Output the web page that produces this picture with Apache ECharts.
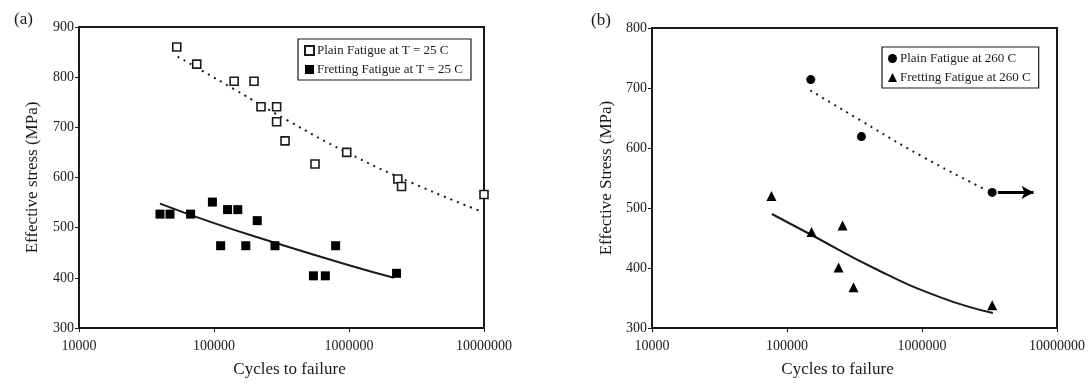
<!DOCTYPE html>
<html>
<head>
<meta charset="utf-8">
<script src="https://cdn.jsdelivr.net/npm/echarts@6/dist/echarts.min.js"></script>
<style>
  html, body { margin: 0; padding: 0; background: #fff; }
  #chart { width: 1091px; height: 383px; }
</style>
</head>
<body>
<div id="chart"></div>
<script>
// ---- (a) room temperature ----
const plainA_cycles = [53000, 74500, 141000, 198000, 223000, 291000, 291000, 336000, 560000, 962000, 2300000, 2450000, 10000000];
const plainA_stress = [860, 826, 792, 792, 741, 741, 711, 673, 627, 650, 597, 582, 566];
const frettA_cycles = [39800, 47200, 67100, 97300, 112000, 126000, 150000, 172000, 209000, 283000, 545000, 668000, 796000, 2250000];
const frettA_stress = [527, 527, 527, 551, 464, 536, 536, 464, 514, 464, 404, 404, 464, 409];
// trend curves (points along each fitted curve)
const plainA_trendCycles = [53800, 141000, 350000, 962000, 3000000, 9600000];
const plainA_trendStress = [841, 776, 714, 650, 588, 532];
const frettA_trendCycles = [39800, 100000, 260000, 1000000, 2150000];
const frettA_trendStress = [548, 509, 473, 425, 400];

// ---- (b) 260 C ----
const plainB_cycles = [150000, 356000, 3310000];
const plainB_stress = [714, 619, 526];
const frettB_cycles = [76700, 152000, 241000, 258000, 311000, 3310000];
const frettB_stress = [520, 460, 401, 471, 368, 338];
const plainB_trendCycles = [149000, 356000, 1000000, 3050000];
const plainB_trendStress = [696, 645, 586, 529];
const frettB_trendCycles = [77300, 152000, 439000, 1370000, 3350000];
const frettB_trendStress = [490, 455, 400, 351, 325];
// run-out arrow on the last plain specimen
const runoutFrom = [3650000, 526];
const runoutTo = [6700000, 526];

// axis ticks
const xTicks = [10000, 100000, 1000000, 10000000];
const yTicksA = [300, 400, 500, 600, 700, 800, 900];
const yTicksB = [300, 400, 500, 600, 700, 800];

const pairs = (xs, ys) => xs.map((x, i) => [x, ys[i]]);

const FONT = '"Liberation Serif", "DejaVu Serif", serif';
const INK = '#1a1a1a';

function xAxisFor(grid, namePad) {
  return {
    type: 'log', logBase: 10, gridIndex: grid,
    min: xTicks[0], max: xTicks[xTicks.length - 1],
    name: 'Cycles to failure', nameLocation: 'middle', nameGap: 33,
    nameTextStyle: { fontFamily: FONT, fontSize: 17, color: INK, padding: namePad },
    axisLine: { lineStyle: { color: INK, width: 2 } },
    axisTick: { show: true, inside: false, length: 4, lineStyle: { color: INK, width: 1 } },
    minorTick: { show: false },
    axisLabel: { fontFamily: FONT, fontSize: 14, color: INK, margin: 11,
      formatter: v => String(Math.round(v)) },
    splitLine: { show: false }
  };
}

function yAxisFor(grid, ticks, label, gap) {
  return {
    type: 'value', gridIndex: grid,
    min: ticks[0], max: ticks[ticks.length - 1], interval: 100,
    name: label, nameLocation: 'middle', nameRotate: 90, nameGap: gap,
    nameTextStyle: { fontFamily: FONT, fontSize: 17, color: INK },
    axisLine: { show: true, lineStyle: { color: INK, width: 2 } },
    axisTick: { show: true, inside: false, length: 4, lineStyle: { color: INK, width: 1 } },
    axisLabel: { fontFamily: FONT, fontSize: 14, color: INK, margin: 5 },
    splitLine: { show: false }
  };
}

function trend(name, xi, xs, ys, dotted) {
  return {
    name: name, type: 'line', xAxisIndex: xi, yAxisIndex: xi,
    data: pairs(xs, ys), smooth: true, showSymbol: false, symbol: 'none',
    silent: true, z: 1,
    lineStyle: dotted ? { color: INK, width: 2, type: [2, 5] } : { color: INK, width: 2 }
  };
}

const legendBase = {
  orient: 'vertical', borderColor: INK, borderWidth: 1.2,
  padding: [5, 8, 4, 6], itemGap: 6, itemWidth: 9, itemHeight: 9,
  textStyle: { fontFamily: FONT, fontSize: 13, color: INK, padding: [0, 0, 0, -2] },
  selectedMode: false
};

const option = {
  backgroundColor: '#fff',
  animation: false,
  title: [
    { text: '(a)', left: 9, top: 6, textStyle: { fontFamily: FONT, fontSize: 17, fontWeight: 'normal', color: INK } },
    { text: '(b)', left: 586, top: 7, textStyle: { fontFamily: FONT, fontSize: 17, fontWeight: 'normal', color: INK } }
  ],
  grid: [
    { left: 79, top: 27, width: 405, height: 303, show: true, borderColor: INK, borderWidth: 2, backgroundColor: 'transparent' },
    { left: 652, top: 28, width: 405, height: 302, show: true, borderColor: INK, borderWidth: 2, backgroundColor: 'transparent' }
  ],
  xAxis: [xAxisFor(0, [0, 0, 0, 16]), xAxisFor(1, [0, 34, 0, 0])],
  yAxis: [
    yAxisFor(0, yTicksA, 'Effective stress (MPa)', 38),
    yAxisFor(1, yTicksB, 'Effective Stress (MPa)', 37)
  ],
  legend: [
    Object.assign({}, legendBase, { left: 298, top: 39,
      data: ['Plain Fatigue at T = 25 C', 'Fretting Fatigue at T = 25 C'] }),
    Object.assign({}, legendBase, { left: 882, top: 47,
      data: ['Plain Fatigue at 260 C', 'Fretting Fatigue at 260 C'] })
  ],
  series: [
    trend('plainA-trend', 0, plainA_trendCycles, plainA_trendStress, true),
    trend('frettA-trend', 0, frettA_trendCycles, frettA_trendStress, false),
    trend('plainB-trend', 1, plainB_trendCycles, plainB_trendStress, true),
    trend('frettB-trend', 1, frettB_trendCycles, frettB_trendStress, false),
    {
      name: 'Plain Fatigue at T = 25 C', type: 'scatter', xAxisIndex: 0, yAxisIndex: 0,
      data: pairs(plainA_cycles, plainA_stress), symbol: 'rect', symbolSize: 8, z: 3,
      itemStyle: { color: '#fff', borderColor: INK, borderWidth: 1.6, opacity: 1 }
    },
    {
      name: 'Fretting Fatigue at T = 25 C', type: 'scatter', xAxisIndex: 0, yAxisIndex: 0,
      data: pairs(frettA_cycles, frettA_stress), symbol: 'rect', symbolSize: 9, z: 3,
      itemStyle: { color: '#000', opacity: 1 }
    },
    {
      name: 'Plain Fatigue at 260 C', type: 'scatter', xAxisIndex: 1, yAxisIndex: 1,
      data: pairs(plainB_cycles, plainB_stress), symbol: 'circle', symbolSize: 9, z: 3,
      itemStyle: { color: '#000', opacity: 1 },
      markLine: {
        silent: true, symbol: ['none', 'arrow'], symbolSize: [10, 12],
        label: { show: false },
        lineStyle: { color: '#000', width: 3, type: 'solid' },
        data: [[{ coord: runoutFrom }, { coord: runoutTo }]]
      }
    },
    {
      name: 'Fretting Fatigue at 260 C', type: 'scatter', xAxisIndex: 1, yAxisIndex: 1,
      data: pairs(frettB_cycles, frettB_stress), symbol: 'triangle', symbolSize: 10, z: 3,
      itemStyle: { color: '#000', opacity: 1 }
    }
  ]
};

const chart = echarts.init(document.getElementById('chart'), null, { renderer: 'canvas' });
chart.setOption(option);
</script>
</body>
</html>
